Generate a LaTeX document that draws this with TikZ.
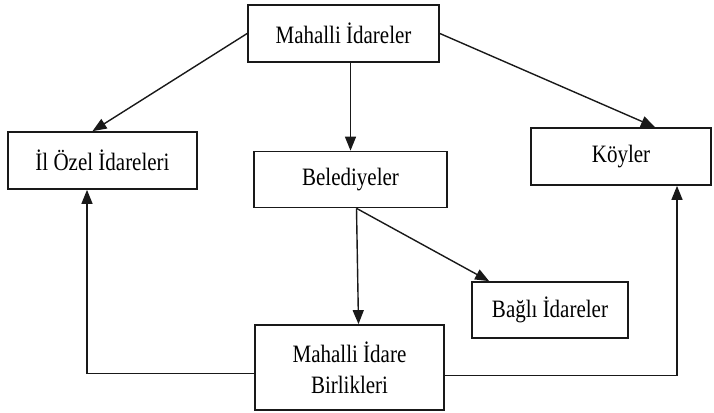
\documentclass[tikz,border=0pt]{standalone}
\usepackage{fontspec}
\setmainfont[FakeStretch=0.84]{Liberation Serif}
\usetikzlibrary{arrows.meta}
\begin{document}
\begin{tikzpicture}[x=1pt,y=-1pt,
  box/.style={draw=black!90,line width=1.7pt,fill=white,inner sep=0pt,
    align=center,font=\fontsize{25}{31}\selectfont},
  link/.style={draw=black!90,line width=1.4pt,
    -{Triangle[length=14pt,width=11pt]}}]
\useasboundingbox (0,0) rectangle (714,412);
% boxes
\node[box,minimum width=191pt,minimum height=57pt] (mi)  at (343.5,33.5)  {Mahalli İdareler};
\node[box,minimum width=189pt,minimum height=57pt] (il)  at (102.5,160.5) {İl Özel İdareleri};
\node[box,minimum width=193pt,minimum height=56pt] (bel) at (350.5,179.5) {Belediyeler};
\node[box,minimum width=180pt,minimum height=57pt] (koy) at (621,156.5)   {Köyler};
\node[box,minimum width=156pt,minimum height=56pt] (bag) at (550,310)     {Bağlı İdareler};
\node[box,minimum width=189pt,minimum height=85pt] (mib) at (349.5,367.5) {Mahalli İdare\\[0pt]Birlikleri};
% connectors
\draw[link] (mi.west) -- ([xshift=-10pt]il.north);
\draw[link] (mi.east) -- ([xshift=34pt]koy.north);
\draw[link] (mi.south -| bel.north) -- (bel.north);
\draw[link] ([xshift=6pt]bel.south) -- ([xshift=18pt]bag.north west);
\draw[link] ([xshift=6pt]bel.south) -- ([xshift=9pt]mib.north);
\draw[link] ([yshift=-6pt]mib.west) -| ([xshift=-15.5pt]il.south);
\draw[link] ([yshift=-8pt]mib.east) -| ([xshift=56pt]koy.south);
\end{tikzpicture}
\end{document}
